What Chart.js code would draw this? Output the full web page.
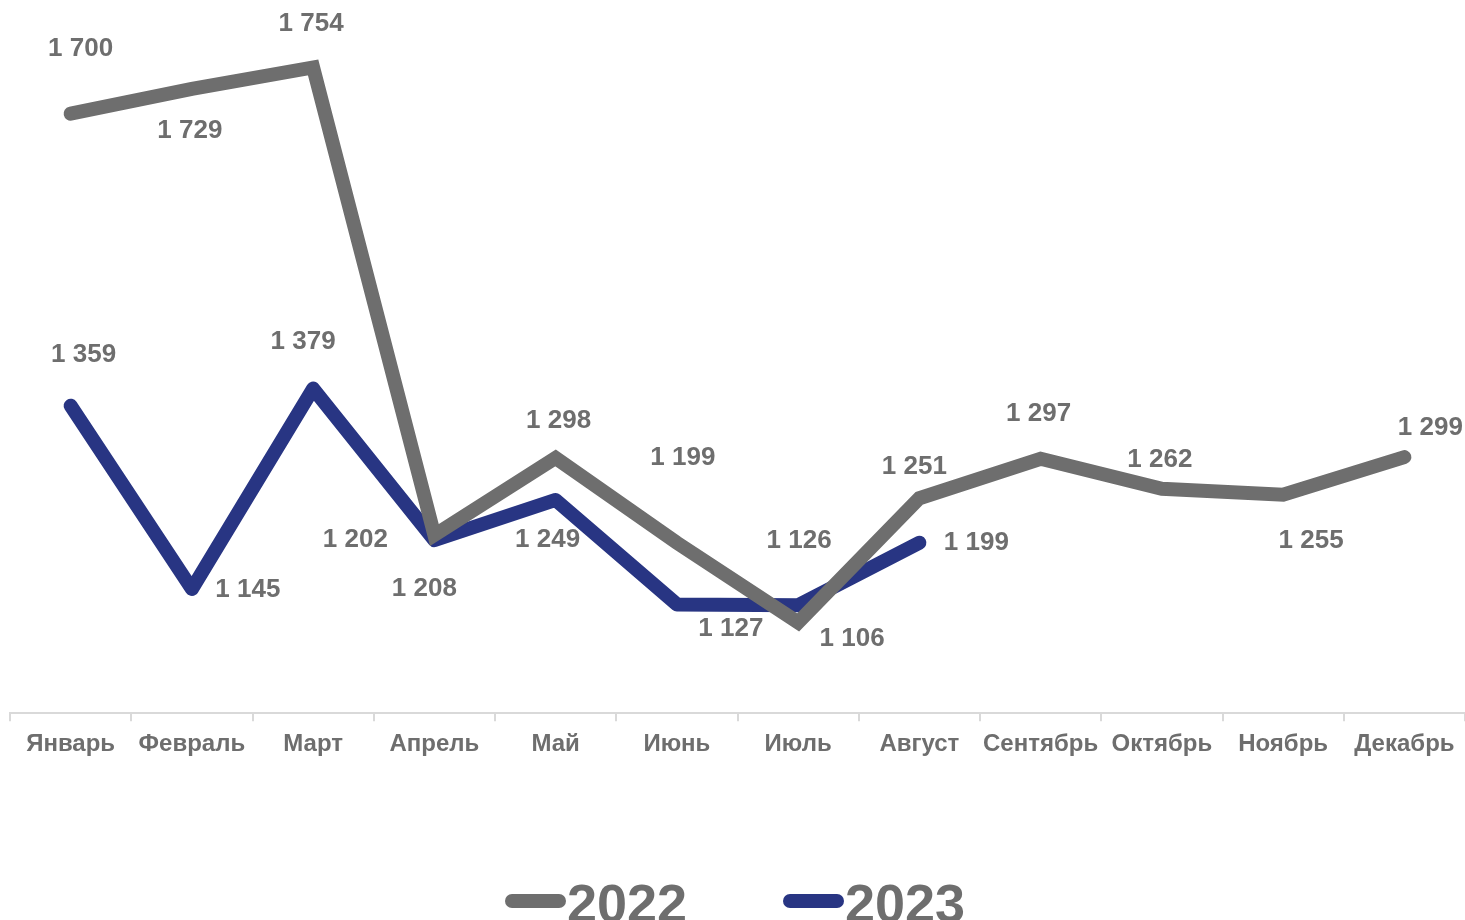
<!DOCTYPE html>
<html>
<head>
<meta charset="utf-8">
<script src="https://cdn.jsdelivr.net/npm/chart.js@4/dist/chart.umd.min.js"></script>
<style>
  html, body { margin: 0; padding: 0; background: #fff; }
  #wrap { width: 1465px; height: 920px; }
</style>
</head>
<body>
<div id="wrap"><canvas id="myChart" width="1465" height="920"></canvas></div>
<script>
// данные
var months = ['Январь', 'Февраль', 'Март', 'Апрель', 'Май', 'Июнь', 'Июль', 'Август', 'Сентябрь', 'Октябрь', 'Ноябрь', 'Декабрь'];
var values2022 = [1700, 1729, 1754, 1208, 1298, 1199, 1106, 1251, 1297, 1262, 1255, 1299];
var values2023 = [1359, 1145, 1379, 1202, 1249, 1127, 1126, 1199];
var seriesNames = ['2022', '2023'];

// смещения подписей (как в оригинале, вручную)
var offsets2022 = [[10, -65], [-2, 42], [-2, -44], [-10, 54], [3, -37], [6, -85], [54, 16], [-5, -31], [-2, -45], [-2, -29], [28, 46], [26, -29]];
var offsets2023 = [[13, -51], [56, 1], [-10, -47], [-79, 0], [-8, 40], [54, 24], [1, -64], [57, 0]];

var GRAY = '#6E6E6E';
var NAVY = '#283583';
var FONT = '"Liberation Sans", Arial, sans-serif';

function fmt(v) {
    var s = String(v);
    return s.length > 3 ? s.slice(0, s.length - 3) + ' ' + s.slice(-3) : s;
}

// подписи значений
var labelsPlugin = {
    id: 'valueLabels',
    afterDatasetsDraw: function (chart) {
        var ctx = chart.ctx;
        var offs = [offsets2022, offsets2023];
        ctx.save();
        ctx.font = 'bold 26px ' + FONT;
        ctx.fillStyle = GRAY;
        ctx.textAlign = 'center';
        ctx.textBaseline = 'middle';
        chart.data.datasets.forEach(function (ds, di) {
            var meta = chart.getDatasetMeta(di);
            meta.data.forEach(function (pt, i) {
                var o = offs[di][i] || [0, 0];
                ctx.fillText(fmt(ds.data[i]), pt.x + o[0], pt.y + o[1]);
            });
        });
        ctx.restore();
    }
};

// легенда внизу
var legendPlugin = {
    id: 'bottomLegend',
    afterDraw: function (chart) {
        var ctx = chart.ctx;
        var items = [{ x: 505, color: GRAY }, { x: 783, color: NAVY }];
        ctx.save();
        items.forEach(function (it, i) {
            ctx.strokeStyle = it.color;
            ctx.lineWidth = 14;
            ctx.lineCap = 'round';
            ctx.beginPath();
            ctx.moveTo(it.x + 7, 901);
            ctx.lineTo(it.x + 54, 901);
            ctx.stroke();
            ctx.font = 'bold 54px ' + FONT;
            ctx.fillStyle = GRAY;
            ctx.textAlign = 'left';
            ctx.textBaseline = 'alphabetic';
            ctx.fillText(seriesNames[i], it.x + 62, 922);
        });
        ctx.restore();
    }
};

var chartdata = {
    labels: months,
    datasets: [
        {
            label: seriesNames[0],
            data: values2022,
            borderColor: GRAY,
            backgroundColor: GRAY,
            borderWidth: 14,
            borderCapStyle: 'round',
            borderJoinStyle: 'miter',
            pointRadius: 0,
            tension: 0
        },
        {
            label: seriesNames[1],
            data: values2023,
            borderColor: NAVY,
            backgroundColor: NAVY,
            borderWidth: 14,
            borderCapStyle: 'round',
            borderJoinStyle: 'round',
            pointRadius: 0,
            tension: 0
        }
    ]
};

var lineGraph = new Chart(document.getElementById('myChart'), {
    type: 'line',
    data: chartdata,
    plugins: [labelsPlugin, legendPlugin],
    options: {
        responsive: false,
        animation: false,
        layout: { padding: { left: 10, right: 0, top: 28, bottom: 152 } },
        plugins: {
            legend: { display: false },
            tooltip: { enabled: false }
        },
        scales: {
            x: {
                offset: true,
                grid: {
                    offset: true,
                    drawOnChartArea: false,
                    drawTicks: true,
                    tickLength: 8,
                    color: '#D9D9D9',
                    lineWidth: 2
                },
                border: { color: '#D9D9D9', width: 2 },
                ticks: {
                    color: GRAY,
                    font: { family: FONT, size: 24, weight: 'bold' },
                    padding: 9,
                    maxRotation: 0,
                    autoSkip: false
                }
            },
            y: {
                display: false,
                min: 1000,
                max: 1800
            }
        }
    }
});
</script>
</body>
</html>
